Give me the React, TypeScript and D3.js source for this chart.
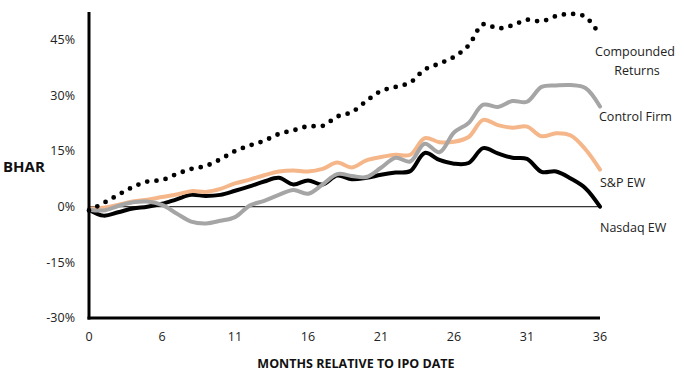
import React, { useEffect, useRef } from "react";
import * as d3 from "d3";

const months = [1, 2, 3, 4, 5, 6, 7, 8, 9, 10, 11, 12, 13, 14, 15, 16, 17, 18, 19, 20, 21, 22, 23, 24, 25, 26, 27, 28, 29, 30, 31, 32, 33, 34, 35, 36];
const tickMonths = [1, 6, 11, 16, 21, 26, 31, 36];
const tickLabels = ["0", "6", "11", "16", "21", "26", "31", "36"];
const yTicks = [-30, -15, 0, 15, 30, 45];

// BHAR in percent
const compounded = [-1.0, 1.0, 3.2, 5.3, 6.8, 7.2, 8.8, 10.2, 11.0, 12.8, 15.0, 16.5, 17.8, 19.6, 20.6, 21.7, 21.8, 24.3, 25.5, 28.5, 31.2, 32.3, 33.5, 37.0, 38.6, 40.4, 43.5, 49.2, 48.1, 48.9, 50.4, 50.0, 51.4, 52.0, 51.2, 46.2];
const controlFirm = [-0.8, -1.0, 0.2, 1.2, 1.4, 0.5, -1.8, -4.0, -4.5, -3.8, -2.8, 0.3, 1.6, 3.2, 4.5, 3.5, 6.0, 8.8, 8.3, 8.0, 10.5, 13.2, 12.2, 17.0, 14.7, 20.0, 22.6, 27.5, 26.9, 28.5, 28.3, 32.3, 32.7, 32.8, 32.0, 27.0];
const spEW = [-0.5, -0.3, 0.5, 1.4, 1.9, 2.6, 3.3, 4.2, 4.0, 4.8, 6.3, 7.3, 8.5, 9.5, 9.8, 9.5, 10.2, 11.9, 10.6, 12.5, 13.4, 14.0, 14.0, 18.5, 17.4, 17.5, 18.8, 23.4, 22.0, 21.3, 21.6, 19.0, 19.8, 19.2, 15.5, 10.0];
const nasdaqEW = [-0.8, -2.4, -1.5, -0.5, 0.0, 0.8, 2.0, 3.2, 2.9, 3.2, 4.3, 5.5, 6.8, 7.8, 6.0, 7.1, 6.0, 8.4, 7.4, 7.8, 8.6, 9.2, 9.6, 14.5, 12.6, 11.6, 11.8, 15.8, 14.4, 13.2, 12.9, 9.4, 9.5, 7.6, 5.0, 0.0];

const font = "'Open Sans', sans-serif";

export default function App() {
  const svgRef = useRef<SVGSVGElement | null>(null);

  useEffect(() => {
    const width = 684;
    const height = 389;
    const svg = d3.select(svgRef.current);
    svg.selectAll("*").remove();

    const x = d3.scalePoint<number>().domain(months).range([89, 600]);
    const y = d3.scaleLinear().domain([-30, 52.5]).range([318, 12]);

    // zero line
    svg
      .append("line")
      .attr("x1", x(1) as number)
      .attr("x2", x(36) as number)
      .attr("y1", y(0))
      .attr("y2", y(0))
      .attr("stroke", "#000")
      .attr("stroke-width", 1);

    const line = d3
      .line<number>()
      .x((_, i) => x(months[i]) as number)
      .y((d) => y(d))
      .curve(d3.curveCatmullRom.alpha(0.5));

    const series = [
      { values: nasdaqEW, color: "#000000", w: 4, dash: null },
      { values: spEW, color: "#f5b78a", w: 4, dash: null },
      { values: controlFirm, color: "#a5a5a5", w: 4, dash: null },
      { values: compounded, color: "#000000", w: 4.8, dash: "0 9.3" },
    ];

    series.forEach((s) => {
      const p = svg
        .append("path")
        .attr("d", line(s.values))
        .attr("fill", "none")
        .attr("stroke", s.color)
        .attr("stroke-width", s.w)
        .attr("stroke-linejoin", "round")
        .attr("stroke-linecap", "round");
      if (s.dash) p.attr("stroke-dasharray", s.dash);
    });

    // axes
    svg
      .append("line")
      .attr("x1", 89)
      .attr("x2", 89)
      .attr("y1", 12)
      .attr("y2", 319.5)
      .attr("stroke", "#000")
      .attr("stroke-width", 3);
    svg
      .append("line")
      .attr("x1", 87.5)
      .attr("x2", x(36) as number)
      .attr("y1", 318)
      .attr("y2", 318)
      .attr("stroke", "#000")
      .attr("stroke-width", 3);

    svg
      .selectAll(".ytick")
      .data(yTicks)
      .enter()
      .append("text")
      .attr("x", 75)
      .attr("y", (d) => y(d))
      .attr("dy", "0.35em")
      .attr("text-anchor", "end")
      .attr("font-family", font)
      .attr("font-size", 12.5)
      .attr("fill", "#222")
      .text((d) => `${d}%`);

    svg
      .selectAll(".xtick")
      .data(tickMonths)
      .enter()
      .append("text")
      .attr("x", (d) => x(d) as number)
      .attr("y", 337)
      .attr("dy", "0.35em")
      .attr("text-anchor", "middle")
      .attr("font-family", font)
      .attr("font-size", 12.5)
      .attr("fill", "#222")
      .text((_, i) => tickLabels[i]);

    svg
      .append("text")
      .attr("x", 3)
      .attr("y", 167)
      .attr("dy", "0.35em")
      .attr("font-family", font)
      .attr("font-weight", "bold")
      .attr("font-size", 15)
      .attr("fill", "#111")
      .text("BHAR");

    svg
      .append("text")
      .attr("x", 356)
      .attr("y", 364)
      .attr("dy", "0.35em")
      .attr("text-anchor", "middle")
      .attr("font-family", font)
      .attr("font-weight", "bold")
      .attr("font-size", 12.5)
      .attr("fill", "#111")
      .text("MONTHS RELATIVE TO IPO DATE");

    const labels = [
      { text: "Compounded", x: 635, y: 52, anchor: "middle" },
      { text: "Returns", x: 637, y: 71, anchor: "middle" },
      { text: "Control Firm", x: 599, y: 117, anchor: "start" },
      { text: "S&P EW", x: 600, y: 183, anchor: "start" },
      { text: "Nasdaq EW", x: 600, y: 228, anchor: "start" },
    ];
    svg
      .selectAll(".lbl")
      .data(labels)
      .enter()
      .append("text")
      .attr("x", (d) => d.x)
      .attr("y", (d) => d.y)
      .attr("dy", "0.35em")
      .attr("text-anchor", (d) => d.anchor)
      .attr("font-family", font)
      .attr("font-size", 12.5)
      .attr("fill", "#222")
      .text((d) => d.text);

    svg.attr("width", width).attr("height", height);
  }, []);

  return (
    <div>
      <style>{`body{margin:0;background:#fff}`}</style>
      <svg ref={svgRef} width={684} height={389} style={{ display: "block" }}></svg>
    </div>
  );
}
